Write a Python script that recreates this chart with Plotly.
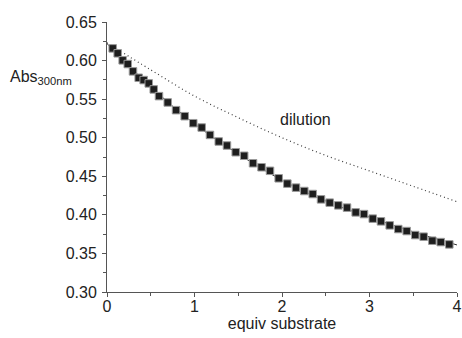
import plotly.graph_objects as go

# measured data (equiv substrate, Abs300nm)
equiv = [0.065, 0.122, 0.179, 0.237, 0.297, 0.362, 0.419, 0.477, 0.534, 0.594,
         0.694, 0.789, 0.888, 0.986, 1.082, 1.177, 1.277, 1.371, 1.471, 1.568,
         1.669, 1.766, 1.863, 1.962, 2.061, 2.160, 2.255, 2.351, 2.446, 2.545,
         2.643, 2.743, 2.842, 2.937, 3.037, 3.131, 3.231, 3.329, 3.425, 3.523,
         3.619, 3.718, 3.814, 3.912]
absorb = [0.6158, 0.6094, 0.6003, 0.5955, 0.5860, 0.5777, 0.5747, 0.5704, 0.5626, 0.5539,
          0.5457, 0.5357, 0.5279, 0.5188, 0.5132, 0.5036, 0.4951, 0.4899, 0.4812, 0.4766,
          0.4669, 0.4617, 0.4571, 0.4474, 0.4405, 0.4353, 0.4309, 0.4270, 0.4201, 0.4158,
          0.4123, 0.4094, 0.4032, 0.4010, 0.3951, 0.3916, 0.3864, 0.3816, 0.3790, 0.3738,
          0.3717, 0.3665, 0.3647, 0.3617]

# fitted curve
fit_x = [0, 0.5, 1, 1.5, 2, 2.5, 3, 3.5, 4]
fit_y = [0.622, 0.566, 0.518, 0.479, 0.445, 0.418, 0.397, 0.378, 0.361]

# dilution curve
dil_x = [0, 0.5, 1, 1.5, 2, 2.5, 3, 3.5, 4]
dil_y = [0.623, 0.588, 0.554, 0.526, 0.500, 0.477, 0.457, 0.437, 0.417]

x_range = [0, 4]
y_range = [0.30, 0.65]

FONT = "Liberation Sans, Arial, sans-serif"
TXT = "#222222"
AX = "#555555"

fig = go.Figure()
fig.add_trace(go.Scatter(x=dil_x, y=dil_y, mode="lines",
                         line=dict(color="#3a3a3a", width=1.2, dash="1px,3px", shape="spline"),
                         hoverinfo="skip"))
fig.add_trace(go.Scatter(x=fit_x, y=fit_y, mode="lines",
                         line=dict(color="#333333", width=1, shape="spline"),
                         hoverinfo="skip"))
fig.add_trace(go.Scatter(x=equiv, y=absorb, mode="markers",
                         marker=dict(symbol="square", size=7.5, color="#1e1e1e",
                                     line=dict(color="#9a9a9a", width=1)),
                         cliponaxis=False))
# invisible trace to carry the tick-mark axis
fig.add_trace(go.Scatter(x=x_range, y=y_range, xaxis="x2", mode="markers",
                         marker=dict(opacity=0), hoverinfo="skip"))

fig.add_annotation(x=2.27, y=0.523, text="dilution", showarrow=False,
                   font=dict(family=FONT, size=16, color=TXT))
fig.add_annotation(xref="x domain", yref="y domain", x=-99 / 350, y=(292 - 77) / 270,
                   text="Abs<sub>300nm</sub>", showarrow=False,
                   xanchor="left", yanchor="middle",
                   font=dict(family=FONT, size=16, color=TXT))

fig.update_layout(
    xaxis=dict(range=x_range, dtick=1, tick0=0, ticks="", showline=True,
               linecolor=AX, linewidth=1, showgrid=False, zeroline=False,
               ticklabeloverflow="allow",
               tickfont=dict(family=FONT, size=16, color=TXT),
               title=dict(text="equiv substrate", standoff=0,
                          font=dict(family=FONT, size=16, color=TXT))),
    xaxis2=dict(range=x_range, overlaying="x", side="bottom", anchor="y",
                dtick=1, tick0=0, ticks="outside", ticklen=4, tickcolor=AX,
                showticklabels=False, showline=False, showgrid=False, zeroline=False,
                minor=dict(dtick=0.5, ticklen=3, tickcolor=AX, ticks="outside")),
    yaxis=dict(range=y_range, dtick=0.05, tick0=0.30, tickformat=".2f",
               ticks="outside", ticklen=4, tickcolor=AX, showline=True,
               linecolor=AX, linewidth=1, showgrid=False, zeroline=False,
               ticklabelstandoff=2,
               minor=dict(dtick=0.025, ticklen=3, tickcolor=AX, ticks="outside"),
               tickfont=dict(family=FONT, size=16, color=TXT)),
    width=462, height=338, showlegend=False, autosize=False,
    margin=dict(l=107, r=5, t=22, b=46, autoexpand=False),
    paper_bgcolor="white", plot_bgcolor="white",
    font=dict(family=FONT),
)

# remove the browser's default 8px body margin so the figure fills the window exactly
fig.write_html("out.html",
               config={"displayModeBar": False},
               post_script="document.body.style.margin='0px';"
                           "document.body.style.overflow='hidden';")
